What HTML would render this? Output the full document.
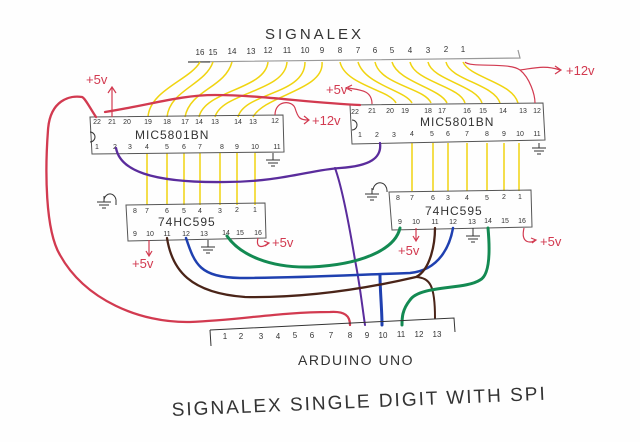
<!DOCTYPE html>
<html><head><meta charset="utf-8"><style>
html,body{margin:0;padding:0;background:#fff;}
svg{display:block;}
text{font-family:"Liberation Sans",sans-serif;}
</style></head><body>
<svg width="640" height="442" viewBox="0 0 640 442" xmlns="http://www.w3.org/2000/svg">
<rect width="640" height="442" fill="#fefefe"/>
<!-- Signalex connector -->
<text x="265" y="39" font-size="15" fill="#333" letter-spacing="3">SIGNALEX</text>
<path d="M188 62 L520 58 L518 50" stroke="#999" stroke-width="1.2" fill="none"/>
<path d="M188 62 L210 62" stroke="#333" stroke-width="1"/>
<g font-size="8" fill="#333" text-anchor="middle">
<text x="200" y="55">16</text><text x="213" y="55">15</text><text x="232" y="54">14</text><text x="251" y="54">13</text><text x="268" y="53">12</text><text x="287" y="53">11</text><text x="305" y="53">10</text><text x="322" y="53">9</text><text x="340" y="53">8</text><text x="358" y="53">7</text><text x="375" y="53">6</text><text x="392" y="53">5</text><text x="410" y="53">4</text><text x="428" y="53">3</text><text x="446" y="52">2</text><text x="463" y="52">1</text>
</g>
<!-- yellow wires top-left -->
<g stroke="#f0d410" stroke-width="1.5" fill="none">
<path d="M200 62 C190 80 150 90 148 117"/>
<path d="M213 62 C205 85 170 90 167 117"/>
<path d="M232 62 C225 88 190 90 185 117"/>
<path d="M268 62 C265 90 205 90 199 117"/>
<path d="M287 62 C285 92 222 92 215 117"/>
<path d="M305 62 C305 95 245 92 238 117"/>
<path d="M322 62 C325 90 265 95 253 117"/>
<path d="M340 62 C345 85 390 90 396 103"/>
<path d="M358 62 C365 85 405 90 412 103"/>
<path d="M375 62 C380 85 425 88 431 103"/>
<path d="M392 62 C398 82 440 88 447 103"/>
<path d="M410 62 C415 82 460 86 465 103"/>
<path d="M428 62 C432 80 476 85 482 103"/>
<path d="M446 62 C450 80 494 84 500 103"/>
<path d="M463 62 C470 78 512 82 518 103"/>
<path d="M147 153 V205 M167 153 V205 M184 153 V205 M200 153 V205 M220 153 V205 M237 153 V205 M255 153 V205"/>
<path d="M412 143 V191 M433 143 V191 M448 143 V191 M467 143 V191 M487 143 V191 M504 143 V191 M519 143 V191"/>
</g>
<!-- Left MIC chip -->
<path d="M90 117 L283 115 L284 152 L92 154 Z" fill="none" stroke="#555" stroke-width="1"/>
<path d="M90 132 a5 5 0 0 1 0 10" fill="none" stroke="#333"/>
<g font-size="7" fill="#333" text-anchor="middle">
<text x="97" y="124">22</text><text x="112" y="124">21</text><text x="127" y="124">20</text><text x="148" y="124">19</text><text x="167" y="124">18</text><text x="185" y="124">17</text><text x="199" y="124">14</text><text x="215" y="124">13</text><text x="238" y="124">14</text><text x="253" y="124">13</text><text x="275" y="123">12</text>
<text x="97" y="149">1</text><text x="115" y="149">2</text><text x="130" y="149">3</text><text x="147" y="149">4</text><text x="167" y="149">5</text><text x="184" y="149">6</text><text x="200" y="149">7</text><text x="222" y="149">8</text><text x="237" y="149">9</text><text x="255" y="149">10</text><text x="277" y="149">11</text>
</g>
<text x="135" y="139" font-size="12" fill="#333" letter-spacing="1">MIC5801BN</text>
<!-- Right MIC chip -->
<path d="M350 105 L543 103 L545 140 L352 144 Z" fill="none" stroke="#555" stroke-width="1"/>
<path d="M352 120 a5 5 0 0 1 0 10" fill="none" stroke="#333"/>
<g font-size="7" fill="#333" text-anchor="middle">
<text x="355" y="114">22</text><text x="372" y="113">21</text><text x="390" y="113">20</text><text x="405" y="113">19</text><text x="428" y="113">18</text><text x="442" y="113">17</text><text x="467" y="113">16</text><text x="483" y="113">15</text><text x="503" y="113">14</text><text x="523" y="113">13</text><text x="537" y="113">12</text>
<text x="360" y="137">1</text><text x="377" y="137">2</text><text x="394" y="137">3</text><text x="412" y="136">4</text><text x="432" y="136">5</text><text x="448" y="136">6</text><text x="467" y="136">7</text><text x="487" y="136">8</text><text x="504" y="136">9</text><text x="520" y="136">10</text><text x="537" y="136">11</text>
</g>
<text x="420" y="126" font-size="12" fill="#333" letter-spacing="1">MIC5801BN</text>
<!-- Left 595 -->
<path d="M126 205 L265 203 L266 238 L128 241 Z" fill="none" stroke="#555" stroke-width="1"/>
<g font-size="7" fill="#333" text-anchor="middle">
<text x="135" y="213">8</text><text x="147" y="213">7</text><text x="167" y="213">6</text><text x="184" y="213">5</text><text x="200" y="213">4</text><text x="220" y="213">3</text><text x="237" y="212">2</text><text x="255" y="212">1</text>
<text x="135" y="236">9</text><text x="150" y="236">10</text><text x="167" y="236">11</text><text x="186" y="236">12</text><text x="204" y="236">13</text><text x="226" y="235">14</text><text x="240" y="235">15</text><text x="258" y="235">16</text>
</g>
<text x="158" y="226" font-size="12" fill="#333" letter-spacing="1">74HC595</text>
<!-- Right 595 -->
<path d="M389 192 L531 190 L532 227 L392 230 Z" fill="none" stroke="#555" stroke-width="1"/>
<g font-size="7" fill="#333" text-anchor="middle">
<text x="398" y="200">8</text><text x="412" y="200">7</text><text x="433" y="200">6</text><text x="448" y="200">3</text><text x="467" y="200">4</text><text x="487" y="200">5</text><text x="504" y="199">2</text><text x="520" y="199">1</text>
<text x="400" y="224">9</text><text x="416" y="224">10</text><text x="435" y="224">11</text><text x="453" y="224">12</text><text x="472" y="224">13</text><text x="488" y="223">14</text><text x="505" y="223">15</text><text x="522" y="223">16</text>
</g>
<text x="425" y="215" font-size="12" fill="#333" letter-spacing="1">74HC595</text>
<!-- grounds -->
<g stroke="#333" stroke-width="1" fill="none">
<path d="M104 200 a6 7 0 0 1 12 2 l0 3"/><path d="M104 196 V202 M97 202 H111 M99 205 H109 M102 208 H106"/>
<path d="M373 190 a6 7 0 0 1 14 2"/><path d="M372 188 V194 M365 194 H379 M367 197 H377 M370 200 H374"/>
<path d="M273 153 V160 M266 160 H280 M268 163 H278 M271 166 H275"/>
<path d="M539 143 V148 M532 148 H546 M534 151 H544 M537 154 H541"/>
<path d="M208 240 V247 M201 247 H215 M203 250 H213 M206 253 H210"/>
<path d="M473 228 V236 M466 236 H480 M468 239 H478 M471 242 H475"/>
</g>
<!-- red power -->
<g stroke="#d23a50" fill="none" stroke-width="1.2">
<path d="M112 117 V88 M108 93 L112 87 L116 93"/>
<path d="M275 115 C275 100 292 100 295 108 C298 118 300 120 308 120 M304 116 L309 120 L304 124"/>
<path d="M372 104 C372 90 360 90 348 88 M352 85 L346 88 L352 91"/>
<path d="M465 62 C470 68 510 62 520 70 C530 78 535 95 535 103 M520 70 C535 68 545 65 560 70 M555 66 L561 70 L555 74"/>
<path d="M149 240 V255 M146 251 L149 256 L152 251"/>
<path d="M258 238 C255 250 265 247 268 243 M264 241 L269 243 L265 246"/>
<path d="M416 228 V240 M413 236 L416 241 L419 236"/>
<path d="M524 228 C520 245 533 243 535 240 M531 238 L536 240 L532 243"/>
</g>
<g fill="#d23a50" font-size="13">
<text x="86" y="84">+5v</text><text x="312" y="125">+12v</text><text x="326" y="94">+5v</text><text x="566" y="75">+12v</text>
<text x="132" y="268">+5v</text><text x="272" y="247">+5v</text><text x="398" y="255">+5v</text><text x="540" y="246">+5v</text>
</g>
<!-- big red wires -->
<g fill="none" stroke-linecap="round">
<path d="M96 117 C90 108 85 98 82 97 C70 95 50 100 48 130 C45 170 45 230 60 255 C85 300 140 323 190 322 C240 320 280 312 330 312 C345 311 350 316 350 325" stroke="#d23a50" stroke-width="2.3"/>
<path d="M105 112 C150 105 180 95 215 95 C260 95 310 103 360 105" stroke="#d23a50" stroke-width="2.3"/>
<path d="M116 148 C120 170 150 183 225 182 C280 182 310 170 340 168 C370 166 382 158 380 143" stroke="#5a2c9c" stroke-width="2.3"/>
<path d="M335 168 C343 190 350 230 355 260 C360 285 362 305 365 325" stroke="#5a2c9c" stroke-width="2"/>
<path d="M227 236 C240 255 270 268 310 267 C360 265 395 250 400 228" stroke="#138a52" stroke-width="3"/>
<path d="M186 238 C195 265 200 277 240 278 C300 278 350 275 410 273 C440 270 450 245 453 228" stroke="#1f40b0" stroke-width="2.5"/>
<path d="M380 275 C380 290 382 310 382 325" stroke="#1f40b0" stroke-width="3"/>
<path d="M167 238 C172 270 190 293 245 297 C300 298 360 290 416 277 C430 270 435 245 435 228" stroke="#4a2418" stroke-width="2.3"/>
<path d="M416 277 C430 278 435 285 435 318" stroke="#4a2418" stroke-width="2"/>
<path d="M488 228 C490 250 490 275 480 280 C465 290 420 285 410 300 C402 310 402 318 402 325" stroke="#138a52" stroke-width="3"/>
</g>
<!-- Arduino header -->
<path d="M210 330 L454 318 L455 332 M210 330 L211 346" stroke="#333" stroke-width="1" fill="none"/>
<g font-size="8" fill="#333" text-anchor="middle">
<text x="225" y="339">1</text><text x="241" y="339">2</text><text x="261" y="339">3</text><text x="278" y="339">4</text><text x="295" y="338">5</text><text x="312" y="338">6</text><text x="331" y="338">7</text><text x="350" y="338">8</text><text x="367" y="338">9</text><text x="383" y="338">10</text><text x="401" y="337">11</text><text x="419" y="337">12</text><text x="437" y="337">13</text>
</g>
<text x="298" y="365" font-size="14" fill="#333" letter-spacing="1.5">ARDUINO UNO</text>
<text x="172" y="416" font-size="19" fill="#333" letter-spacing="2" transform="rotate(-2.5 172 416)">SIGNALEX  SINGLE DIGIT  WITH SPI</text>
</svg>
</body></html>
